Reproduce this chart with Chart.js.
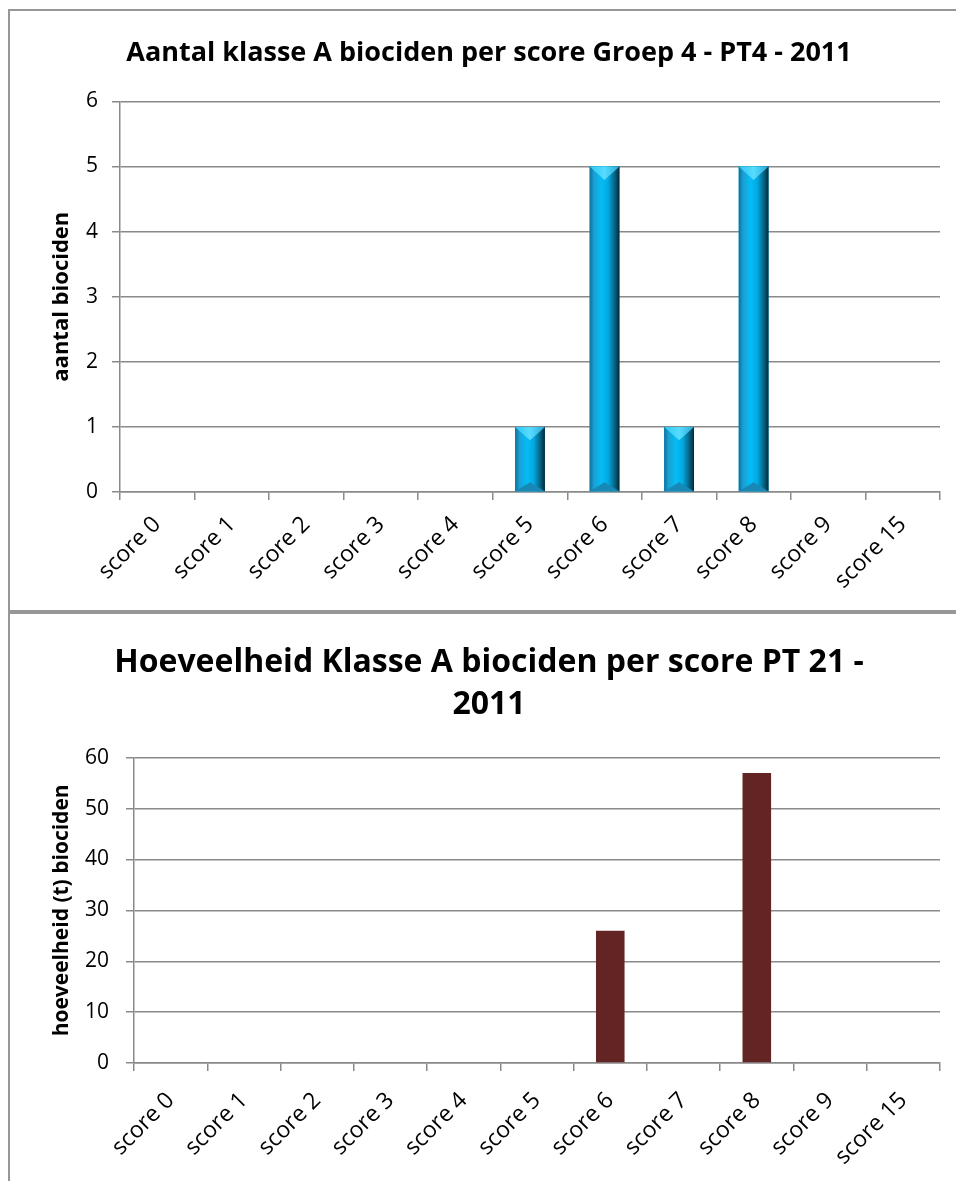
<!DOCTYPE html>
<html>
<head>
<meta charset="utf-8">
<script src="https://cdn.jsdelivr.net/npm/chart.js@4.4.0/dist/chart.umd.min.js"></script>
<style>
html, body { margin: 0; padding: 0; background: #fff; width: 956px; height: 1181px; overflow: hidden; }
.box { position: absolute; left: 8px; width: 958px; border: 2px solid #979797; background: #fff; }
#box1 { top: 9px; height: 599px; }
#box2 { top: 612px; height: 600px; }
canvas { display: block; }
</style>
</head>
<body>
<div class="box" id="box1"><canvas id="chart1" width="958" height="599"></canvas></div>
<div class="box" id="box2"><canvas id="chart2" width="958" height="600"></canvas></div>
<script>
const scoreLabels = ['score 0', 'score 1', 'score 2', 'score 3', 'score 4', 'score 5', 'score 6', 'score 7', 'score 8', 'score 9', 'score 15'];
const aantalBiociden = [0, 0, 0, 0, 0, 1, 5, 1, 5, 0, 0];
const hoeveelheidBiociden = [0, 0, 0, 0, 0, 0, 26, 0, 57, 0, 0];
const aantalAxis = { min: 0, max: 6, step: 1 };
const hoeveelheidAxis = { min: 0, max: 60, step: 10 };

const FONT = "'Open Sans', 'DejaVu Sans', sans-serif";
const GRID = '#8a8a8a';
const SIDE = 28; // same padding both sides so the title is centred on the box

Chart.defaults.font.family = FONT;
Chart.defaults.color = '#000';
Chart.defaults.animation = false;

// excel-like bevel on the blue bars
const bevel = {
    id: 'bevel',
    afterDatasetsDraw(chart) {
        const ctx = chart.ctx;
        chart.getDatasetMeta(0).data.forEach((bar) => {
            const p = bar.getProps(['x', 'y', 'base', 'width'], true);
            const h = p.base - p.y;
            if (h <= 0) return;
            const l = p.x - p.width / 2, r = p.x + p.width / 2, w = p.width;
            ctx.save();
            let g = ctx.createLinearGradient(l, 0, r, 0);
            g.addColorStop(0, '#0f6f99');
            g.addColorStop(0.14, '#1a9fd3');
            g.addColorStop(0.4, '#05bdf6');
            g.addColorStop(0.62, '#03a9e2');
            g.addColorStop(0.85, '#06617f');
            g.addColorStop(1, '#03283a');
            ctx.fillStyle = g;
            ctx.fillRect(l, p.y, w, h);
            // top facet
            const d = Math.min(w * 0.45, h / 2);
            g = ctx.createLinearGradient(l, 0, r, 0);
            g.addColorStop(0, '#2fc6f2');
            g.addColorStop(0.5, '#56dcff');
            g.addColorStop(1, '#2aa9d6');
            ctx.fillStyle = g;
            ctx.beginPath();
            ctx.moveTo(l, p.y); ctx.lineTo(r, p.y); ctx.lineTo(p.x, p.y + d); ctx.closePath();
            ctx.fill();
            // bottom facet
            const b = Math.min(w * 0.3, h / 2);
            ctx.fillStyle = '#1888b6';
            ctx.beginPath();
            ctx.moveTo(l, p.base); ctx.lineTo(r, p.base); ctx.lineTo(p.x, p.base - b); ctx.closePath();
            ctx.fill();
            ctx.restore();
        });
    }
};

function buildOptions(cfg) {
    return {
        responsive: false,
        layout: { padding: { left: SIDE, right: SIDE, top: 0, bottom: 0 } },
        plugins: {
            legend: { display: false },
            tooltip: { enabled: false },
            title: {
                display: true,
                text: cfg.title,
                font: { size: cfg.titleSize, weight: 'bold', lineHeight: cfg.titleLine },
                padding: cfg.titlePad,
                color: '#000'
            }
        },
        scales: {
            x: {
                grid: { offset: true, drawOnChartArea: false, drawTicks: true, tickLength: 8, color: GRID, lineWidth: 1.5 },
                border: { color: GRID, width: 1.5 },
                ticks: { minRotation: 45, maxRotation: 45, autoSkip: false, padding: cfg.xPad, font: { size: 23 } },
                afterFit: (s) => { s.height = cfg.xHeight; }
            },
            y: {
                min: cfg.axis.min,
                max: cfg.axis.max,
                grid: { drawTicks: true, tickLength: 8, color: GRID, lineWidth: 1.5 },
                border: { color: GRID, width: 1.5 },
                ticks: { stepSize: cfg.axis.step, padding: cfg.yPad, font: { size: 21 } },
                title: {
                    display: true,
                    text: cfg.yTitle,
                    font: { size: cfg.yTitleSize, weight: 'bold' },
                    padding: { top: 52 - SIDE - cfg.yTitleSize * 0.6, bottom: 0 }
                },
                afterFit: (s) => { s.width = cfg.yWidth - SIDE; }
            }
        }
    };
}

new Chart(document.getElementById('chart1'), {
    type: 'bar',
    data: {
        labels: scoreLabels,
        datasets: [{
            label: 'aantal biociden',
            data: aantalBiociden,
            backgroundColor: '#00b0f0',
            categoryPercentage: 1,
            barPercentage: 0.4
        }]
    },
    options: buildOptions({
        title: 'Aantal klasse A biociden per score Groep 4 - PT4 - 2011',
        titleSize: 27, titleLine: 1.2,
        titlePad: { top: 26, bottom: 32 },
        yTitle: 'aantal biociden',
        yTitleSize: 22,
        axis: aantalAxis,
        yWidth: 110, yPad: 14,
        xHeight: 118, xPad: 11
    }),
    plugins: [bevel]
});

new Chart(document.getElementById('chart2'), {
    type: 'bar',
    data: {
        labels: scoreLabels,
        datasets: [{
            label: 'hoeveelheid (t) biociden',
            data: hoeveelheidBiociden,
            backgroundColor: '#632523',
            categoryPercentage: 1,
            barPercentage: 0.39
        }]
    },
    options: buildOptions({
        title: ['Hoeveelheid Klasse A biociden per score PT 21 -', '2011'],
        titleSize: 32, titleLine: 1.34,
        titlePad: { top: 27, bottom: 31 },
        yTitle: 'hoeveelheid (t) biociden',
        yTitleSize: 21,
        axis: hoeveelheidAxis,
        yWidth: 124, yPad: 17,
        xHeight: 151, xPad: 16
    })
});
</script>
</body>
</html>
